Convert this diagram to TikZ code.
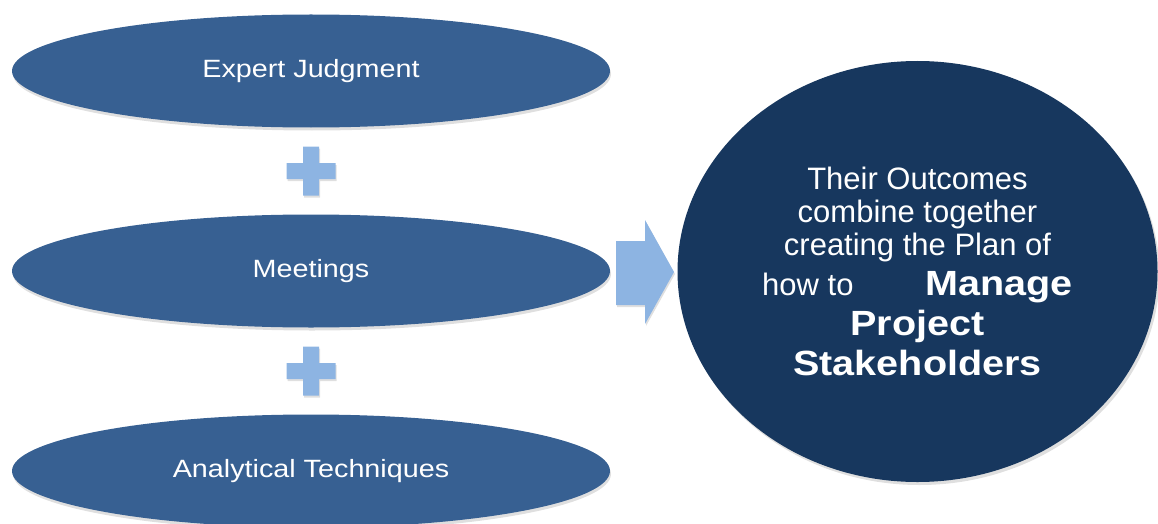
\documentclass[tikz,border=0pt]{standalone}
\usepackage{fontspec}
\usepackage{graphicx}
\setmainfont{Liberation Sans}
\usetikzlibrary{shapes.geometric,shadows,calc}

\definecolor{toolblue}{HTML}{376092}
\definecolor{plannavy}{HTML}{17375E}
\definecolor{pluslight}{HTML}{8DB4E2}

\newcommand{\widetext}[1]{\scalebox{1.15}[1]{#1}}
\newcommand{\boldtext}[1]{{\fontsize{35}{38}\selectfont\bfseries\scalebox{1.13}[1]{#1}}}

\begin{document}
\begin{tikzpicture}[x=1pt,y=-1pt]
  \tikzset{toolellipse/.style={ellipse,fill=toolblue,text=white,inner sep=0pt,minimum width=598pt,minimum height=113pt,font=\fontsize{25}{30}\selectfont,drop shadow={opacity=0.25,shadow xshift=1pt,shadow yshift=-3pt}}}
  \tikzset{plancircle/.style={ellipse,fill=plannavy,text=white,inner sep=0pt,minimum width=480pt,minimum height=421pt,align=center,font=\fontsize{31}{33}\selectfont,drop shadow={opacity=0.25,shadow xshift=2pt,shadow yshift=-3pt}}}
  \tikzset{plussign/.style={fill=pluslight,drop shadow={opacity=0.25,shadow xshift=1pt,shadow yshift=-2pt}}}

  \useasboundingbox (0,0) rectangle (1158,524);

  \node[toolellipse] (expert)   at (311,71)  {\widetext{Expert Judgment}};
  \node[toolellipse] (meetings) at (311,271) {\widetext{Meetings}};
  \node[toolellipse] (analytic) at (311,471) {\widetext{Analytical Techniques}};

  \node[plancircle] (plan) at (917.5,271.5) {Their Outcomes\\combine together\\creating the Plan of\\[7pt]how to\hspace{72pt}\boldtext{Manage}\\[7pt]\boldtext{Project}\\[7pt]\boldtext{Stakeholders}};

  \coordinate (plus1) at ($(expert.south)!0.5!(meetings.north)$);
  \coordinate (plus2) at ($(meetings.south)!0.5!(analytic.north)$);
  \foreach \p in {plus1,plus2}
    \path[plussign] ($(\p)+(-24.5,-8)$) rectangle ($(\p)+(24.5,8)$)
                    ($(\p)+(-8,-24.5)$) rectangle ($(\p)+(8,24.5)$);

  \path[plussign] (616,241) -- (645,241) -- (645,220) -- (674,272)
                  -- (645,324) -- (645,305) -- (616,305) -- cycle;
\end{tikzpicture}
\end{document}
